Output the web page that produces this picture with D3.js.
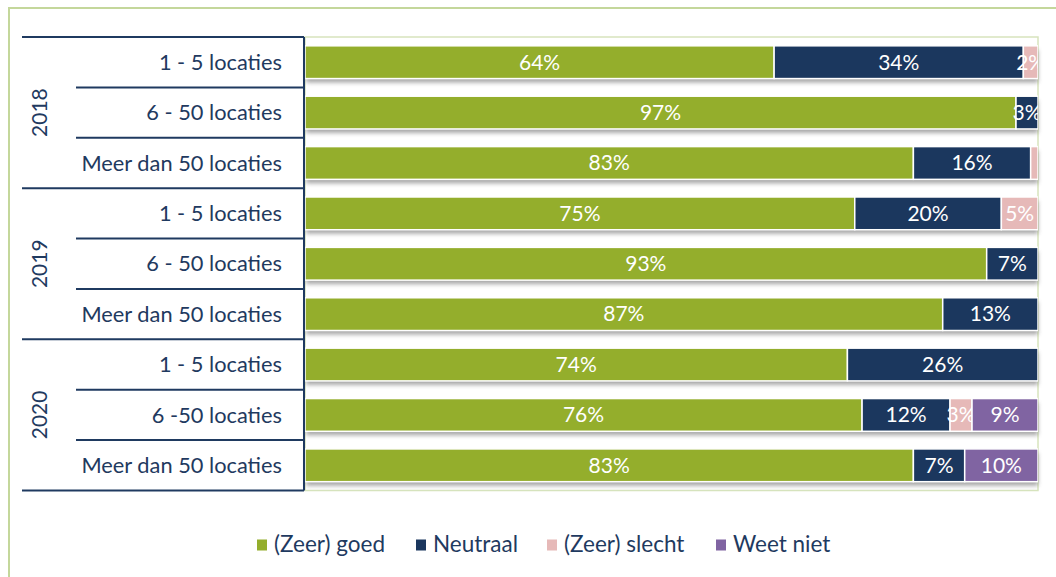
<!DOCTYPE html>
<html>
<head>
<meta charset="utf-8">
<script src="https://cdn.jsdelivr.net/npm/d3@7"></script>
<style>
  body { margin: 0; background: #fff; }
  svg { font-family: "Lato", "Open Sans", sans-serif; }
</style>
</head>
<body>
<div id="chart"></div>
<script>
const years = ["2018", "2019", "2020"];
const groups = ["1 - 5 locaties", "6 - 50 locaties", "Meer dan 50 locaties",
                "1 - 5 locaties", "6 - 50 locaties", "Meer dan 50 locaties",
                "1 - 5 locaties", "6 -50 locaties", "Meer dan 50 locaties"];
const series = ["(Zeer) goed", "Neutraal", "(Zeer) slecht", "Weet niet"];
const goed    = [64, 97, 83, 75, 93, 87, 74, 76, 83];
const neutraal = [34, 3, 16, 20, 7, 13, 26, 12, 7];
const slecht  = [2, 0, 1, 5, 0, 0, 0, 3, 0];
const weetNiet = [0, 0, 0, 0, 0, 0, 0, 9, 10];
const colors = ["#94ae2c", "#1b375e", "#e6b9b8", "#8064a2"];

const W = 1056, H = 577;
const margin = {top: 37, left: 305, right: 18, bottom: 86};
const width = W - margin.left - margin.right,
    height = H - margin.top - margin.bottom - 0.5;

const svg = d3.select("#chart").append("svg")
    .attr("width", W).attr("height", H);

const defs = svg.append("defs");
defs.append("filter").attr("id", "shadow")
    .attr("x", "-5%").attr("y", "-20%").attr("width", "110%").attr("height", "160%")
    .append("feGaussianBlur").attr("stdDeviation", 2);
defs.append("clipPath").attr("id", "plotclip")
    .append("rect").attr("x", 0).attr("y", 0).attr("width", width).attr("height", height);

// outer frame
svg.append("rect")
    .attr("x", 9).attr("y", 8).attr("width", W + 10).attr("height", H + 10)
    .attr("fill", "none").attr("stroke", "#c4d79b").attr("stroke-width", 2);

const g = svg.append("g")
    .attr("transform", "translate(" + margin.left + "," + margin.top + ")");

const rows = d3.range(groups.length);
const y = d3.scaleBand().domain(rows).range([0, height]).paddingInner(0.35).paddingOuter(0.175);
const x = d3.scaleLinear().domain([0, 100]).range([0, width]);

// plot area border
g.append("rect")
    .attr("x", 0).attr("y", 0).attr("width", width).attr("height", height)
    .attr("fill", "none").attr("stroke", "#d7e4bd").attr("stroke-width", 1.5);

const stackData = rows.map(i => ({
    i: i, "(Zeer) goed": goed[i], "Neutraal": neutraal[i],
    "(Zeer) slecht": slecht[i], "Weet niet": weetNiet[i]
}));
const stacked = d3.stack().keys(series)(stackData);

// shadows under bars
g.selectAll(".shadow")
    .data(rows)
    .enter().append("rect")
    .attr("x", 1)
    .attr("y", d => y(d) + 4)
    .attr("width", d => x(goed[d] + neutraal[d] + slecht[d] + weetNiet[d]) - 1)
    .attr("height", y.bandwidth())
    .attr("fill", "#8a8a8a")
    .attr("opacity", 0.75)
    .attr("filter", "url(#shadow)");

const layers = g.selectAll(".layer")
    .data(stacked)
    .enter().append("g")
    .attr("fill", (d, k) => colors[k])
    .attr("clip-path", "url(#plotclip)");

layers.selectAll("rect")
    .data(d => d.filter(s => s[1] - s[0] > 0))
    .enter().append("rect")
    .attr("x", d => x(d[0]))
    .attr("y", d => y(d.data.i))
    .attr("width", d => x(d[1]) - x(d[0]))
    .attr("height", y.bandwidth())
    .attr("stroke", "#fff")
    .attr("stroke-width", 1.5);

layers.selectAll("text")
    .data(d => d.filter(s => s[1] - s[0] >= 2))
    .enter().append("text")
    .attr("x", d => (x(d[0]) + x(d[1])) / 2)
    .attr("y", d => y(d.data.i) + y.bandwidth() / 2)
    .attr("dy", "0.35em")
    .attr("text-anchor", "middle")
    .attr("fill", "#fff")
    .style("font-size", "21px")
    .text(d => (d[1] - d[0]) + "%");

// left axis with nested categories
const axis = svg.append("g").attr("stroke", "#1f3a60");
const rowH = height / groups.length;
const top0 = margin.top;
axis.append("line")
    .attr("x1", margin.left - 1).attr("x2", margin.left - 1)
    .attr("y1", top0).attr("y2", top0 + height)
    .attr("stroke-width", 2);
d3.range(groups.length + 1).forEach(function (k) {
    axis.append("line")
        .attr("x1", k % 3 === 0 ? 22 : 76).attr("x2", margin.left - 1)
        .attr("y1", top0 + k * rowH).attr("y2", top0 + k * rowH)
        .attr("stroke-width", 2);
});

svg.append("g").selectAll("text")
    .data(groups)
    .enter().append("text")
    .attr("x", 282)
    .attr("y", (d, i) => top0 + y(i) + y.bandwidth() / 2)
    .attr("dy", "0.35em")
    .attr("text-anchor", "end")
    .attr("fill", "#1f3a60")
    .style("font-size", "21.8px")
    .text(d => d);

svg.append("g").selectAll("text")
    .data(years)
    .enter().append("text")
    .attr("transform", (d, i) => "translate(40," + (top0 + (i * 3 + 1.5) * rowH) + ") rotate(-90)")
    .attr("dy", "0.35em")
    .attr("text-anchor", "middle")
    .attr("fill", "#1f3a60")
    .style("font-size", "21px")
    .text(d => d);

// legend
const legendX = [257, 416, 547, 716];
const legend = svg.append("g").selectAll("g")
    .data(series)
    .enter().append("g")
    .attr("transform", (d, i) => "translate(" + legendX[i] + ",545)");
legend.append("rect")
    .attr("x", 0).attr("y", -5.5).attr("width", 10).attr("height", 11)
    .attr("fill", (d, i) => colors[i]);
legend.append("text")
    .attr("x", 17).attr("dy", "0.33em")
    .attr("fill", "#1f3a60")
    .style("font-size", "22.5px")
    .text(d => d);
</script>
</body>
</html>
